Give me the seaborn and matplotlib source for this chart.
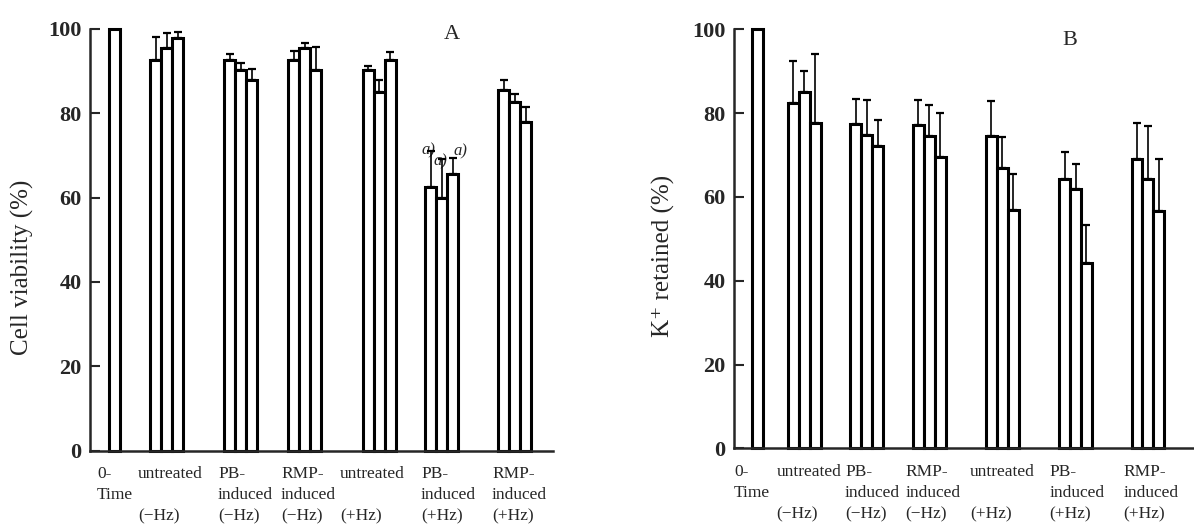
import numpy as np
import pandas as pd
import matplotlib
matplotlib.use("Agg")
import matplotlib.pyplot as plt
import seaborn as sns

# ---- data -------------------------------------------------------------
groups = ["0-Time", "untreated (-Hz)", "PB-induced (-Hz)", "RMP-induced (-Hz)",
          "untreated (+Hz)", "PB-induced (+Hz)", "RMP-induced (+Hz)"]
tick_labels = ["0-\nTime", "untreated\n\n(\u2212Hz)", "PB-\ninduced\n(\u2212Hz)",
               "RMP-\ninduced\n(\u2212Hz)", "untreated\n\n(+Hz)",
               "PB-\ninduced\n(+Hz)", "RMP-\ninduced\n(+Hz)"]

viability_mean = [[100.0], [92.7, 95.4, 97.9], [92.7, 90.2, 87.8], [92.7, 95.4, 90.2],
                  [90.2, 85.1, 92.7], [62.6, 59.8, 65.5], [85.5, 82.7, 78.0]]
viability_sd = [[0.0], [5.4, 3.5, 1.4], [1.3, 1.7, 2.7], [2.0, 1.2, 5.4],
                [1.0, 2.7, 1.8], [8.5, 9.3, 3.8], [2.3, 1.8, 3.5]]
viability_flag_group = "PB-induced (+Hz)"   # significantly different, marked a)

retained_mean = [[100.0], [82.5, 85.0, 77.6], [77.3, 74.8, 72.2], [77.2, 74.5, 69.6],
                 [74.5, 66.8, 56.9], [64.2, 61.8, 44.2], [69.0, 64.2, 56.6]]
retained_sd = [[0.0], [9.9, 5.0, 16.4], [6.1, 8.3, 6.2], [5.9, 7.4, 10.4],
               [8.5, 7.6, 8.6], [6.4, 6.1, 9.1], [8.6, 12.7, 12.4]]

# ---- layout -----------------------------------------------------------
# group centres and left edges of the category labels, in axis units
centers_a = [25, 76.5, 150.5, 214.5, 289, 351.5, 424.5]
label_left_a = [7, 48, 128, 191, 250, 331, 402]
centers_b = [20, 67, 130, 193, 266.5, 340.5, 413.5]
label_left_b = [-4, 39, 108, 169, 234, 314, 389]
bar_w = 11.0

sns.set_style("ticks")
plt.rcParams["font.family"] = ["Liberation Serif", "DejaVu Serif"]


def make_frame(means, sds, centers):
    rows = []
    for g, c, m, s in zip(groups, centers, means, sds):
        n = len(m)
        for j, (v, e) in enumerate(zip(m, s)):
            rows.append(dict(group=g, rep=j, x=c + (j - (n - 1) / 2) * bar_w,
                             value=v, sd=e))
    return pd.DataFrame(rows)


def draw_panel(ax, df, label_left, xmax, ylabel, letter, letter_xy, label_xy):
    sns.barplot(data=df, x="x", y="value", native_scale=True, orient="x",
                width=1.0, color="white", edgecolor="black", linewidth=2.2,
                errorbar=None, ax=ax)
    err = df[df.sd > 0]
    ax.errorbar(err.x, err.value, yerr=[np.zeros(len(err)), err.sd], fmt="none",
                ecolor="black", elinewidth=1.2, capsize=2.6, capthick=1.6,
                clip_on=False, zorder=5)
    ax.set_xlim(0, xmax)
    ax.set_ylim(0, 100)
    ax.set_yticks([0, 20, 40, 60, 80, 100])
    ax.set_yticklabels(["0", "20", "40", "60", "80", "100"], fontsize=16,
                       fontweight="bold")
    ax.set_xticks(label_left)
    ax.set_xticklabels(tick_labels, fontsize=12.5, linespacing=1.45,
                       ha="left", multialignment="left")
    ax.tick_params(axis="x", length=0, pad=11)
    ax.tick_params(axis="y", direction="in", length=7, width=1.5, pad=6)
    ax.set_xlabel("")
    ax.set_ylabel(ylabel, fontsize=18, labelpad=0)
    ax.yaxis.set_label_coords(*label_xy)
    for side in ("left", "bottom"):
        ax.spines[side].set_linewidth(1.8)
    sns.despine(ax=ax)
    ax.text(*letter_xy, letter, transform=ax.transAxes, fontsize=16,
            ha="center", va="center")
    for p in ax.patches:
        p.set_clip_on(False)


fig = plt.figure(figsize=(11.94, 5.25), dpi=100)
ax_a = fig.add_axes([90 / 1194, 1 - 450.7 / 525, 463 / 1194, 422 / 525])
ax_b = fig.add_axes([734 / 1194, 1 - 448.3 / 525, 460 / 1194, 419 / 525])

df_a = make_frame(viability_mean, viability_sd, centers_a)
df_b = make_frame(retained_mean, retained_sd, centers_b)

draw_panel(ax_a, df_a, label_left_a, 463, "Cell viability (%)", "A",
           (0.782, 0.987), (-0.122, 0.435))
draw_panel(ax_b, df_b, label_left_b, 460, "K\u207a retained (%)", "B",
           (0.730, 0.974), (-0.128, 0.46))

# significance marks beside the error-bar caps
flagged = df_a[df_a.group == viability_flag_group]
offsets = [(-1.5, 0.5), (-0.7, -1.5), (5.8, 5.0)]
for (_, r), off in zip(flagged.iterrows(), offsets):
    ax_a.annotate("a)", (r.x, r.value + r.sd), xytext=off, textcoords="offset points",
                  ha="center", va="center", fontsize=12, style="italic")

fig.savefig("out.png", dpi=100)
